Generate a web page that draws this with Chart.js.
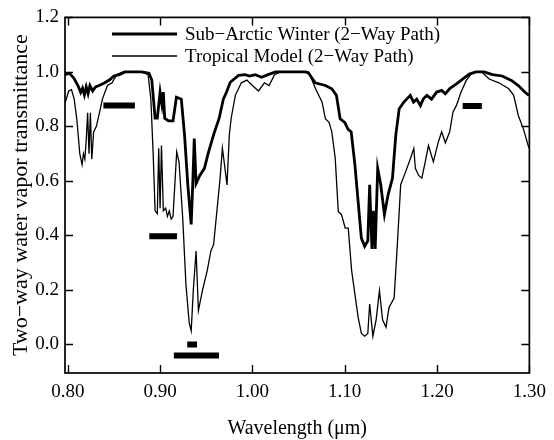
<!DOCTYPE html>
<html>
<head>
<meta charset="utf-8">
<script src="https://cdn.jsdelivr.net/npm/chart.js@4"></script>
<style>
  body { margin: 0; background: #fff; }
  #wrap { width: 554px; height: 440px; }
</style>
</head>
<body>
<div id="wrap"><canvas id="chart" width="554" height="440"></canvas></div>
<script>
// Sub-Arctic Winter (thick curve)
const arcticX = [0.797, 0.802, 0.807, 0.811, 0.814, 0.816, 0.818, 0.820, 0.822, 0.824, 0.827, 0.830, 0.834, 0.840, 0.845, 0.850, 0.856, 0.862, 0.880, 0.888,
  0.891, 0.8946, 0.897, 0.900, 0.902, 0.9035, 0.905, 0.909, 0.914, 0.9177, 0.923, 0.9265, 0.930, 0.9337, 0.9355, 0.937, 0.939, 0.943, 0.948, 0.952,
  0.958, 0.964, 0.9685, 0.972, 0.976, 0.985, 0.992, 0.997, 1.003, 1.010, 1.017, 1.025, 1.058, 1.061, 1.068, 1.079, 1.086, 1.091, 1.095, 1.100,
  1.1035, 1.107, 1.111, 1.1145, 1.118, 1.1216, 1.125, 1.127, 1.1295, 1.131, 1.133, 1.1357, 1.139, 1.143, 1.147, 1.1517, 1.1553, 1.159, 1.164, 1.171,
  1.1745, 1.178, 1.182, 1.185, 1.189, 1.194, 1.1996, 1.205, 1.209, 1.214, 1.221, 1.228, 1.235, 1.242, 1.251, 1.260, 1.2705, 1.281, 1.288, 1.295, 1.2995];
const arcticY = [0.99, 0.995, 0.975, 0.95, 0.925, 0.94, 0.915, 0.945, 0.92, 0.95, 0.93, 0.945, 0.95, 0.96, 0.97, 0.985, 0.99, 1.0, 1.0, 0.995,
  0.97, 0.83, 0.83, 0.926, 0.88, 0.926, 0.83, 0.82, 0.82, 0.907, 0.90, 0.768, 0.586, 0.44, 0.60, 0.755, 0.59, 0.62, 0.646, 0.70,
  0.77, 0.83, 0.90, 0.926, 0.962, 0.987, 0.99, 0.985, 0.99, 0.98, 0.99, 1.0, 1.0, 0.995, 0.96, 0.95, 0.938, 0.914, 0.828, 0.815,
  0.79, 0.78, 0.66, 0.525, 0.39, 0.36, 0.38, 0.586, 0.35, 0.49, 0.35, 0.646, 0.586, 0.477, 0.55, 0.61, 0.768, 0.865, 0.889, 0.914,
  0.889, 0.90, 0.876, 0.90, 0.914, 0.90, 0.926, 0.932, 0.92, 0.94, 0.956, 0.974, 0.992, 1.0, 1.0, 0.99, 0.985, 0.968, 0.95, 0.926, 0.914];

// Tropical Model (thin curve)
const tropicalX = [0.797, 0.801, 0.804, 0.807, 0.810, 0.813, 0.8155, 0.817, 0.8185, 0.820, 0.8215, 0.823, 0.8245, 0.826, 0.828, 0.831, 0.833, 0.835, 0.8375, 0.843,
  0.848, 0.853, 0.860, 0.881, 0.887, 0.890, 0.8925, 0.8946, 0.897, 0.8985, 0.900, 0.9015, 0.9035, 0.906, 0.908, 0.910, 0.912, 0.914, 0.918, 0.9205,
  0.9245, 0.928, 0.9315, 0.9337, 0.936, 0.939, 0.9415, 0.946, 0.951, 0.955, 0.958, 0.9615, 0.965, 0.9675, 0.9725, 0.975, 0.977, 0.9815, 0.988, 0.994,
  1.000, 1.0066, 1.013, 1.018, 1.024, 1.030, 1.061, 1.0684, 1.0755, 1.079, 1.083, 1.086, 1.0897, 1.093, 1.0965, 1.1005, 1.1038, 1.1075, 1.1145, 1.118,
  1.1216, 1.125, 1.127, 1.1305, 1.134, 1.1376, 1.141, 1.1447, 1.148, 1.1535, 1.157, 1.1606, 1.166, 1.1713, 1.1748, 1.1765, 1.180, 1.1835, 1.1872, 1.1907,
  1.196, 1.2014, 1.205, 1.209, 1.2137, 1.2173, 1.221, 1.226, 1.2315, 1.2368, 1.242, 1.249, 1.2564, 1.267, 1.2777, 1.283, 1.288, 1.2936, 1.2995];
const tropicalY = [0.885, 0.93, 0.935, 0.90, 0.82, 0.70, 0.66, 0.70, 0.68, 0.75, 0.85, 0.70, 0.85, 0.68, 0.78, 0.80, 0.83, 0.86, 0.90, 0.95,
  0.96, 0.99, 1.0, 1.0, 0.99, 0.90, 0.70, 0.49, 0.48, 0.72, 0.50, 0.73, 0.49, 0.50, 0.47, 0.49, 0.46, 0.47, 0.707, 0.67,
  0.464, 0.22, 0.08, 0.05, 0.20, 0.343, 0.124, 0.20, 0.27, 0.343, 0.367, 0.488, 0.61, 0.72, 0.585, 0.77, 0.83, 0.914, 0.96, 0.97,
  0.95, 0.93, 0.96, 0.95, 0.99, 1.0, 1.0, 0.938, 0.889, 0.828, 0.815, 0.78, 0.683, 0.488, 0.476, 0.427, 0.427, 0.27, 0.10, 0.04,
  0.03, 0.04, 0.148, 0.03, 0.09, 0.197, 0.09, 0.063, 0.136, 0.17, 0.367, 0.586, 0.634, 0.683, 0.719, 0.646, 0.62, 0.61, 0.67, 0.73,
  0.67, 0.743, 0.78, 0.74, 0.78, 0.853, 0.877, 0.926, 0.968, 0.992, 1.0, 0.998, 0.974, 0.96, 0.938, 0.914, 0.84, 0.79, 0.72];

// black band markers
const bandStart = [0.8386, 0.8883, 0.9294, 0.9149, 1.2277];
const bandEnd = [0.8727, 0.9184, 0.9400, 0.9638, 1.2485];
const bandLevel = [0.877, 0.397, 0.0, -0.041, 0.875];

const xTicks = [0.80, 0.90, 1.00, 1.10, 1.20, 1.30];
const yTicks = [0.0, 0.2, 0.4, 0.6, 0.8, 1.0, 1.2];

const serif = 'Liberation Serif';

function pairs(xs, ys) {
  return xs.map((x, i) => ({ x: x, y: ys[i] }));
}

const datasets = [
  { label: 'Sub\u2212Arctic Winter (2\u2212Way Path)', data: pairs(arcticX, arcticY),
    borderColor: '#000', borderWidth: 2.8, pointRadius: 0, tension: 0 },
  { label: 'Tropical Model (2\u2212Way Path)', data: pairs(tropicalX, tropicalY),
    borderColor: '#000', borderWidth: 1.3, pointRadius: 0, tension: 0 }
];
bandLevel.forEach((lv, i) => {
  datasets.push({ label: 'band', data: [{ x: bandStart[i], y: lv }, { x: bandEnd[i], y: lv }],
    borderColor: '#000', borderWidth: 6, borderCapStyle: 'butt', pointRadius: 0 });
});

// frame, inward ticks and the in-plot legend
const framePlugin = {
  id: 'frame',
  beforeDraw(chart) {
    const ctx = chart.ctx;
    ctx.save();
    ctx.fillStyle = '#fff';
    ctx.fillRect(0, 0, chart.width, chart.height);
    ctx.restore();
  },
  afterDatasetsDraw(chart) {
    const ctx = chart.ctx;
    const a = chart.chartArea;
    const sx = chart.scales.x, sy = chart.scales.y;
    ctx.save();
    ctx.strokeStyle = '#000';
    ctx.lineWidth = 1.7;
    ctx.strokeRect(a.left, a.top, a.right - a.left, a.bottom - a.top);
    ctx.lineWidth = 1.4;
    ctx.beginPath();
    xTicks.forEach(v => {
      const px = Math.round(sx.getPixelForValue(v)) + 0.5;
      ctx.moveTo(px, a.bottom); ctx.lineTo(px, a.bottom - 8);
      ctx.moveTo(px, a.top); ctx.lineTo(px, a.top + 8);
    });
    yTicks.forEach(v => {
      const py = Math.round(sy.getPixelForValue(v)) + 0.5;
      ctx.moveTo(a.left, py); ctx.lineTo(a.left + 8, py);
      ctx.moveTo(a.right, py); ctx.lineTo(a.right - 8, py);
    });
    ctx.stroke();

    // legend
    ctx.font = '19px "' + serif + '"';
    ctx.fillStyle = '#000';
    ctx.textBaseline = 'middle';
    [0, 1].forEach(i => {
      const ds = chart.data.datasets[i];
      const y = 34 + i * 22;
      ctx.lineWidth = ds.borderWidth + 0.3;
      ctx.beginPath();
      ctx.moveTo(112, y); ctx.lineTo(177, y);
      ctx.stroke();
      ctx.fillText(ds.label, 185, y + 1);
    });
    ctx.restore();
  }
};

new Chart(document.getElementById('chart'), {
  type: 'line',
  data: { datasets: datasets },
  options: {
    responsive: false,
    animation: false,
    layout: { padding: { top: 15, right: 17, left: 0, bottom: 0 } },
    plugins: { legend: { display: false }, tooltip: { enabled: false } },
    scales: {
      x: {
        type: 'linear', min: 0.797, max: 1.30,
        afterBuildTicks: s => { s.ticks = xTicks.map(v => ({ value: v })); },
        afterFit: s => { s.height = 67; },
        grid: { display: false, drawTicks: false },
        border: { display: false },
        ticks: { padding: 8, color: '#000', font: { family: serif, size: 19 },
          callback: v => v.toFixed(2) },
        title: { display: true, text: 'Wavelength (\u03bcm)', color: '#000',
          font: { family: serif, size: 20 }, padding: { top: 0, bottom: -1 } }
      },
      y: {
        min: -0.105, max: 1.2,
        afterBuildTicks: s => { s.ticks = yTicks.map(v => ({ value: v })); },
        afterFit: s => { s.width = 65; },
        grid: { display: false, drawTicks: false },
        border: { display: false },
        ticks: { padding: 6, color: '#000', font: { family: serif, size: 19 },
          callback: v => v.toFixed(1) },
        title: { display: true, text: 'Two\u2212way water vapor transmittance', color: '#000',
          font: { family: serif, size: 22 }, padding: 8 }
      }
    }
  },
  plugins: [framePlugin]
});
</script>
</body>
</html>
